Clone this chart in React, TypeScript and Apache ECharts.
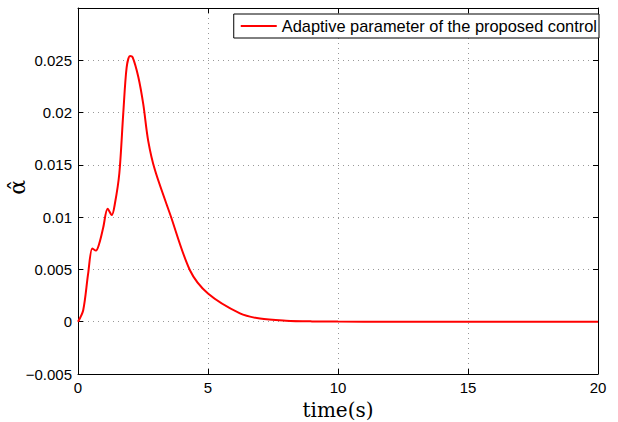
import React, { useEffect, useRef } from "react";
import * as echarts from "echarts";

const timeS = [0, 0.2, 0.39, 0.55, 0.69, 0.82, 0.97, 1.14, 1.3, 1.42, 1.59, 1.74, 1.87, 2.0, 2.1, 2.32, 2.51, 2.7, 2.96, 3.54, 4.31, 5.0, 6.23, 7, 8, 9, 10, 12, 15, 20];
const alphaHat = [0, 0.0011, 0.0046, 0.007, 0.0068, 0.0075, 0.009, 0.0108, 0.0102, 0.0113, 0.0142, 0.0199, 0.0243, 0.0254, 0.0253, 0.0234, 0.0208, 0.0173, 0.0145, 0.0103, 0.0049, 0.0027, 0.0008, 0.0003, 0.0001, 0.00003, 0.00001, 0, 0, 0];
const seriesName = "Adaptive parameter of the proposed control";

export default function App() {
  const ref = useRef<HTMLDivElement>(null);
  useEffect(() => {
    const chart = echarts.init(ref.current!, undefined, { renderer: "svg" });
    const font = "Liberation Sans, Arial, Helvetica, sans-serif";
    const data = timeS.map((t, i) => [t, alphaHat[i]]);
    const dotted = { show: true, lineStyle: { color: "#999", type: [1, 4] as any, width: 1 } };
    chart.setOption({
      animation: false,
      backgroundColor: "#fff",
      grid: { left: 78, top: 8, right: 20, bottom: 48, outerBoundsMode: "none", containLabel: false } as any,
      legend: {
        data: [seriesName],
        right: 19,
        top: 14,
        orient: "vertical",
        backgroundColor: "#fff",
        borderColor: "#000",
        borderWidth: 1,
        borderRadius: 0,
        padding: [4, 2, 4, 7],
        itemWidth: 36,
        itemHeight: 2,
        itemGap: 0,
        icon: "rect",
        textStyle: { fontFamily: font, fontSize: 16.4, color: "#000", padding: [0, 0, 0, 0] },
      },
      xAxis: [
        {
          type: "value",
          min: 0,
          max: 20,
          interval: 5,
          name: "time(s)",
          nameLocation: "middle",
          nameGap: 22,
          nameTextStyle: { fontFamily: "DejaVu Serif, Liberation Serif, serif", fontSize: 20, color: "#000" },
          axisLine: { show: true, onZero: false, lineStyle: { color: "#000", width: 1 } },
          axisTick: { show: true, inside: true, length: 5, lineStyle: { color: "#000" } },
          axisLabel: { fontFamily: font, fontSize: 15, color: "#000", margin: 6 },
          splitLine: dotted,
        },
        {
          type: "value",
          position: "top",
          min: 0,
          max: 20,
          interval: 5,
          axisLine: { show: true, onZero: false, lineStyle: { color: "#000", width: 1 } },
          axisTick: { show: true, inside: true, length: 5, lineStyle: { color: "#000" } },
          axisLabel: { show: false },
          splitLine: { show: false },
        },
      ],
      yAxis: [
        {
          type: "value",
          min: -0.005,
          max: 0.03,
          interval: 0.005,
          axisLine: { show: true, onZero: false, lineStyle: { color: "#000", width: 1 } },
          axisTick: { show: true, inside: true, length: 5, lineStyle: { color: "#000" } },
          axisLabel: {
            fontFamily: font,
            fontSize: 15,
            color: "#000",
            margin: 6,
            formatter: (v: number) => {
              if (Math.abs(v - 0.03) < 1e-9) return "";
              const s = parseFloat(v.toFixed(3)).toString();
              return s.replace("-", "\u2212");
            },
          },
          splitLine: dotted,
        },
        {
          type: "value",
          position: "right",
          min: -0.005,
          max: 0.03,
          interval: 0.005,
          axisLine: { show: true, onZero: false, lineStyle: { color: "#000", width: 1 } },
          axisTick: { show: true, inside: true, length: 5, lineStyle: { color: "#000" } },
          axisLabel: { show: false },
          splitLine: { show: false },
        },
      ],
      graphic: [
        {
          type: "text",
          left: 6,
          top: 180,
          rotation: Math.PI / 2,
          style: {
            text: "\u03B1\u0302",
            fontFamily: "DejaVu Serif, Liberation Serif, serif",
            fontSize: 22,
            fill: "#000",
          },
        },
      ],
      series: [
        {
          name: seriesName,
          type: "line",
          data,
          smooth: 0.3,
          showSymbol: false,
          symbol: "none",
          lineStyle: { color: "#ff0000", width: 2 },
          itemStyle: { color: "#ff0000" },
        },
      ],
    });
    return () => chart.dispose();
  }, []);
  return <div ref={ref} style={{ width: 618, height: 422, position: "absolute", left: 0, top: 0 }} />;
}
